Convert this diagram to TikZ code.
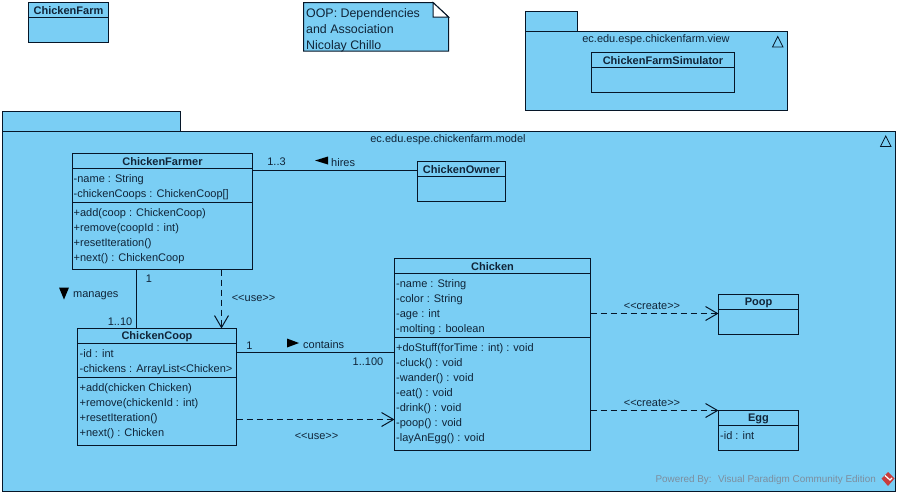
\documentclass[tikz,border=0pt]{standalone}
\usepackage{fontspec}
\setmainfont{Liberation Sans}
\usepackage{tikz}
\usetikzlibrary{positioning,%
  arrows.meta,%
  calc%
}
\definecolor{umlblue}{RGB}{122,206,244}
\definecolor{umlline}{RGB}{6,22,40}
\definecolor{umltext}{RGB}{16,36,56}
\definecolor{umlmark}{RGB}{125,142,158}
\definecolor{umllogo}{RGB}{200,60,60}
\tikzset{
  umlbox/.style={draw=umlline,fill=umlblue,line width=1pt,inner sep=0pt,outer sep=0pt,anchor=north west},
  classname/.style={font=\fontsize{11}{13}\selectfont\bfseries,text=umltext,inner sep=0pt,yshift=-.8pt},
  members/.style={font=\fontsize{11}{15}\selectfont,text=umltext,align=left,anchor=north west,inner sep=0pt,yshift=-3pt},
  caption/.style={font=\fontsize{11}{13}\selectfont,text=umltext,inner sep=0pt,yshift=-1pt},
  assoc/.style={draw=umlline,line width=1pt},
  depends/.style={draw=umlline,line width=1pt,dash pattern=on 6pt off 4pt,-{Straight Barb[length=12pt,width=14pt]}},
  dirmark/.style={fill=black,draw=none}
}
\begin{document}
\begin{tikzpicture}[x=1pt,y=-1pt]
  \useasboundingbox (0,0) rectangle (900,496);

  % packages
  \node[umlbox,minimum width=178pt,minimum height=20pt] (modeltab) at (2.5,111.5) {};
  \node[umlbox,minimum width=893pt,minimum height=360pt] (model) at (2.5,131.5) {};
  \node[umlbox,minimum width=52pt,minimum height=20pt] (viewtab) at (525.5,11.5) {};
  \node[umlbox,minimum width=262pt,minimum height=78.5pt] (view) at (525.5,31.5) {};
  \node[caption] (modelname) at (448,139) {ec.edu.espe.chickenfarm.model};
  \node[caption] (viewname) at (656,39) {ec.edu.espe.chickenfarm.view};
  \foreach \px/\py in {772.5/47,880.5/146.5}
    \draw[umlline,line width=.8pt,line join=miter] (\px,\py) -- ++(10.5,0) -- ++(-5.25,-10.5) -- cycle;

  % note
  \draw[umlbox,line join=miter] (303.5,2.5) -- (433,2.5) -- (448.5,17) -- (448.5,51) -- (303.5,51) -- cycle;
  \draw[draw=umlline,fill=white,line width=1pt,line join=miter] (433,2.5) -- (433,17) -- (448.5,17) -- cycle;
  \node[members,font=\fontsize{12.4}{16}\selectfont] (note) at (306,5.5) {OOP: Dependencies\\and Association\\Nicolay Chillo};

  % classes
  \node[umlbox,minimum width=80pt,minimum height=39.5pt] (farm) at (28.5,2.5) {};
  \node[umlbox,minimum width=143pt,minimum height=40pt] (simulator) at (591.5,52) {};
  \node[umlbox,minimum width=180pt,minimum height=116pt] (farmer) at (72.5,153.5) {};
  \node[umlbox,minimum width=88pt,minimum height=40pt] (owner) at (417.5,161.5) {};
  \node[umlbox,minimum width=159pt,minimum height=117pt] (coop) at (77.5,328.5) {};
  \node[umlbox,minimum width=196pt,minimum height=192pt] (chicken) at (394.5,258.5) {};
  \node[umlbox,minimum width=80pt,minimum height=40pt] (poop) at (718.5,294.5) {};
  \node[umlbox,minimum width=80pt,minimum height=40pt] (egg) at (718.5,410.5) {};

  \foreach \c/\t in {farm/ChickenFarm,simulator/ChickenFarmSimulator,farmer/ChickenFarmer,owner/ChickenOwner,coop/ChickenCoop,chicken/Chicken,poop/Poop,egg/Egg}{
    \node[classname] (\c-title) at ([yshift=-7.5pt]\c.north) {\t};
    \draw[assoc] ([yshift=-15pt]\c.north west) -- ([yshift=-15pt]\c.north east);
  }
  \foreach \c/\d in {farmer/48.5,coop/48.5,chicken/79}
    \draw[assoc] ([yshift=-\d pt]\c.north west) -- ([yshift=-\d pt]\c.north east);

  \node[members] (farmer-attrs) at (73.5,171) {-name : String\\-chickenCoops : ChickenCoop[]};
  \node[members] (farmer-ops) at (73.5,205) {+add(coop : ChickenCoop)\\+remove(coopId : int)\\+resetIteration()\\+next() : ChickenCoop};
  \node[members] (coop-attrs) at (79.5,346) {-id : int\\-chickens : ArrayList<Chicken>};
  \node[members] (coop-ops) at (79.5,380) {+add(chicken Chicken)\\+remove(chickenId : int)\\+resetIteration()\\+next() : Chicken};
  \node[members] (chicken-attrs) at (396,276) {-name : String\\-color : String\\-age : int\\-molting : boolean};
  \node[members] (chicken-ops) at (396,340) {+doStuff(forTime : int) : void\\-cluck() : void\\-wander() : void\\-eat() : void\\-drink() : void\\-poop() : void\\-layAnEgg() : void};
  \node[members] (egg-attrs) at (720,428) {-id : int};

  % connectors
  \coordinate (hiresline) at (0,170.5);
  \coordinate (containsline) at (0,352.5);
  \coordinate (coopuseline) at (0,419.5);
  \coordinate (poopline) at (0,313.5);
  \coordinate (eggline) at (0,410.5);
  \coordinate (managesline) at (136.5,0);
  \coordinate (farmeruseline) at (221.5,0);

  \draw[assoc] (farmer.east |- hiresline) -- (owner.west |- hiresline);
  \draw[assoc] (managesline |- farmer.south) -- (managesline |- coop.north);
  \draw[assoc] (coop.east |- containsline) -- (chicken.west |- containsline);
  \draw[depends] (farmeruseline |- farmer.south) -- (farmeruseline |- coop.north);
  \draw[depends] (coop.east |- coopuseline) -- (chicken.west |- coopuseline);
  \draw[depends] (chicken.east |- poopline) -- (poop.west |- poopline);
  \draw[depends] (chicken.east |- eggline) -- (egg.north west);

  % labels
  \node[caption] (hires-from) at (276.5,161) {1..3};
  \node[caption,anchor=west] (hires) at (331,162) {hires};
  \draw[dirmark] (315,160.5) -- (328,156.5) -- (328,164.5) -- cycle;
  \node[caption] (manages-from) at (149,278) {1};
  \node[caption] (manages-to) at (120,321) {1..10};
  \node[caption,anchor=west] (manages) at (73,295) {manages};
  \draw[dirmark] (59,287.5) -- (69,287.5) -- (64,299.5) -- cycle;
  \node[caption] (contains-from) at (249.5,345) {1};
  \node[caption] (contains-to) at (368,361) {1..100};
  \node[caption,anchor=west] (contains) at (303,344) {contains};
  \draw[dirmark] (287,338.5) -- (299,343) -- (287,347.5) -- cycle;
  \node[caption] (farmeruse) at (253.5,297) {<{}<use>{}>};
  \node[caption] (coopuse) at (316.5,435) {<{}<use>{}>};
  \node[caption] (poopcreate) at (652,305) {<{}<create>{}>};
  \node[caption] (eggcreate) at (652,402) {<{}<create>{}>};

  % watermark
  \node[caption,font=\fontsize{9.9}{12}\selectfont,text=umlmark,anchor=east] (powered) at (876,479) {Powered By: \ Visual Paradigm Community Edition};
  \fill[umllogo] (888,472) -- (894.5,478.5) -- (888,486) -- (881.5,478.5) -- cycle;
  \draw[white,line width=1.2pt] (885,475.5) -- (890,480) -- (892,478);
\end{tikzpicture}
\end{document}
